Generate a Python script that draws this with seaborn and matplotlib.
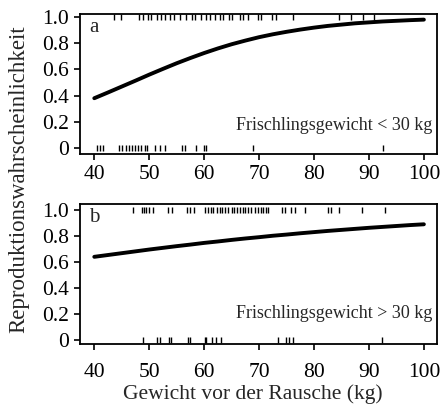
import numpy as np
import pandas as pd
import seaborn as sns
import matplotlib.pyplot as plt

# Fitted curves (every 2.5 kg)
gewicht = [40, 42.5, 45, 47.5, 50, 52.5, 55, 57.5, 60, 62.5, 65, 67.5, 70,
           72.5, 75, 77.5, 80, 82.5, 85, 87.5, 90, 92.5, 95, 97.5, 100]
kurve_a = [0.380, 0.424, 0.469, 0.514, 0.560, 0.604, 0.647, 0.687, 0.725, 0.760,
           0.792, 0.820, 0.846, 0.868, 0.887, 0.904, 0.919, 0.932, 0.942, 0.952,
           0.959, 0.966, 0.971, 0.976, 0.980]
kurve_b = [0.640, 0.654, 0.668, 0.682, 0.696, 0.709, 0.722, 0.734, 0.747, 0.758,
           0.770, 0.781, 0.791, 0.802, 0.811, 0.821, 0.830, 0.839, 0.847, 0.855,
           0.863, 0.870, 0.877, 0.884, 0.890]

# Observations (rug marks): reproduced (1) and not reproduced (0)
a_ja = [43.6, 44.8, 48.1, 48.9, 49.7, 50.4, 51.5, 52.1, 52.9, 53.8, 54.5, 55.6, 56.7,
        57.7, 58.3, 59.5, 60.3, 61.0, 61.9, 62.8, 63.5, 64.5, 65.0, 66.5, 67.1, 68.0,
        69.8, 70.4, 72.4, 73.0, 76.1, 84.5, 86.8, 88.9, 90.9]
a_nein = [40.5, 41.0, 41.5, 44.5, 45.0, 45.8, 46.3, 46.9, 47.4, 48.0, 48.5, 49.2, 49.6,
          51.0, 51.9, 52.8, 55.9, 56.5, 58.5, 59.9, 60.4, 68.9, 92.5]
b_ja = [47.0, 48.6, 49.0, 49.5, 50.0, 50.6, 53.5, 54.1, 56.8, 57.4, 58.2, 60.1, 60.7,
        61.2, 61.6, 62.3, 62.9, 63.2, 63.8, 64.4, 65.0, 65.4, 65.9, 66.5, 67.0, 67.4,
        68.0, 68.6, 69.2, 69.8, 70.4, 70.8, 71.3, 71.6, 74.1, 74.7, 75.9, 76.5, 78.3,
        82.5, 83.1, 84.5, 88.8, 92.9]
b_nein = [48.8, 51.5, 51.9, 53.6, 53.9, 57.1, 57.4, 60.1, 60.4, 61.5, 62.1, 63.0,
          73.5, 74.9, 75.5, 76.2, 92.4]

sns.set_theme(style="ticks")
plt.rcParams['font.family'] = ['Liberation Serif', 'DejaVu Serif']
plt.rcParams['font.size'] = 12

fig = plt.figure(figsize=(4.43, 4.08), dpi=100)
ax_a = fig.add_axes([0.1806, 0.6225, 0.806, 0.3432])
ax_b = fig.add_axes([0.1806, 0.1569, 0.806, 0.3431])

panels = [
    (ax_a, kurve_a, a_ja, a_nein, "a", "Frischlingsgewicht < 30 kg", (-0.046, 1.023), 0.207, 4),
    (ax_b, kurve_b, b_ja, b_nein, "b", "Frischlingsgewicht > 30 kg", (-0.03, 1.046), 0.22, 10),
]

for ax, kurve, ja, nein, buchstabe, text, ylim, ty, xpad in panels:
    df = pd.DataFrame({"x": gewicht, "y": kurve})
    sns.lineplot(data=df, x="x", y="y", ax=ax, color="black", linewidth=2.8)
    ax.plot(ja, np.ones(len(ja)), "|", color="black", ms=4.5, mew=1)
    ax.plot(nein, np.zeros(len(nein)), "|", color="black", ms=4.5, mew=1)

    ax.set_xlim(37.4, 102.4)
    ax.set_ylim(*ylim)
    ax.set_xticks([40, 50, 60, 70, 80, 90, 100])
    ax.set_yticks([0, 0.2, 0.4, 0.6, 0.8, 1.0])
    ax.set_yticklabels(["0", "0.2", "0.4", "0.6", "0.8", "1.0"])
    ax.set_xlabel("")
    ax.set_ylabel("")
    ax.tick_params(axis="both", direction="out", length=4, width=1.2,
                   labelsize=15.5, color="black", labelcolor="black", pad=4)
    ax.tick_params(axis="x", pad=xpad)
    for s in ax.spines.values():
        s.set_visible(True)
        s.set_linewidth(1.3)
        s.set_color("black")
    ax.text(0.025, 0.9, buchstabe, transform=ax.transAxes, fontsize=15,
            ha="left", va="center")
    ax.text(0.986, ty, text, transform=ax.transAxes, fontsize=13,
            ha="right", va="center")

ax_b.set_xlabel("Gewicht vor der Rausche (kg)", fontsize=15.5, labelpad=0)
ax_b.xaxis.set_label_coords(0.485, -0.29)
fig.text(0.042, 0.56, "Reproduktionswahrscheinlichkeit", rotation=90,
         ha="center", va="center", fontsize=16.5)

fig.savefig("out.png", dpi=100)
